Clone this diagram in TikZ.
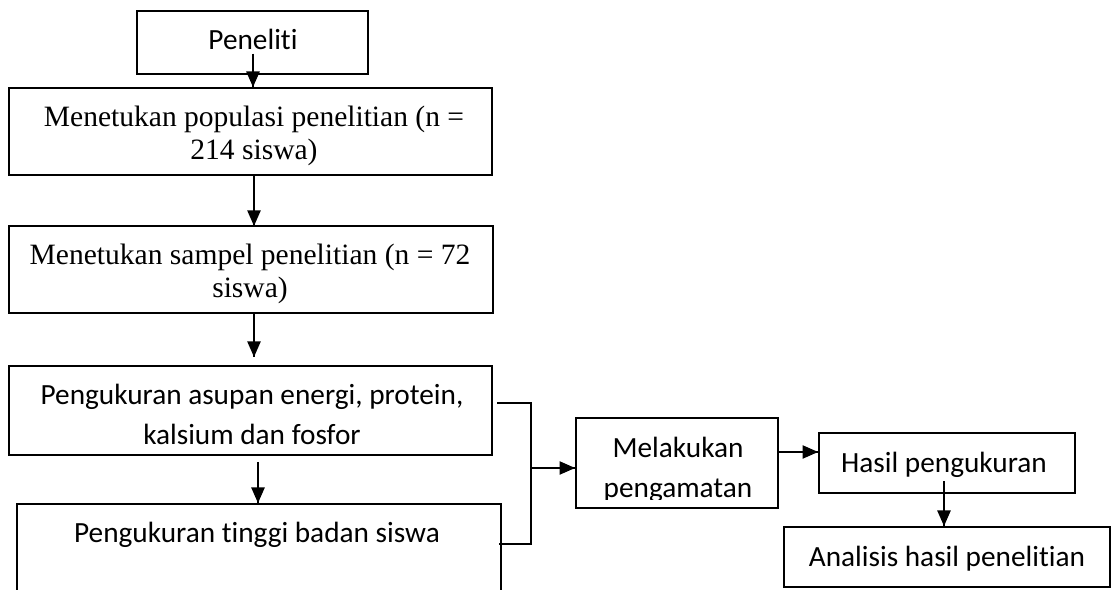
\documentclass[tikz,border=0pt]{standalone}
\usepackage{fontspec}
\setmainfont{Liberation Serif}
\newfontfamily\calibri[Ligatures=NoCommon]{Carlito}
\usetikzlibrary{arrows.meta}
\usetikzlibrary{decorations.markings}
\usetikzlibrary{positioning}
\usetikzlibrary{fit}
\tikzset{flow/.style = {decoration={markings,
                                    mark=at position 1 with {\arrow{Triangle[length=6.5pt, width=5.5pt]}}},
                        postaction={decorate}}}
\tikzset{box/.style = {draw, line width=0.75pt, inner sep=0}}
\tikzset{serif/.style = {align=center, inner sep=1pt, anchor=base, font=\fontsize{12.3}{13.75}\selectfont}}
\tikzset{sans/.style = {align=center, inner sep=1pt, anchor=base, font=\calibri\fontsize{12.2}{16.7}\selectfont}}

\begin{document}
\begin{tikzpicture}[x=0.4166pt, y=-0.4166pt, line width=0.75pt]
      \clip (0, 0) rectangle (1113, 590);

      % left column
      \node [box, fit={(137, 11) (368, 74)}] (peneliti) {};
      \node [sans] (penelitiTxt) at (253, 50) {Peneliti};
      \node [box, fit={(9, 88) (492, 175)}] (populasi) {};
      \node [serif] (populasiTxt) at (254, 160) {Menetukan populasi penelitian (n =\\214 siswa)};
      \node [box, fit={(9, 226) (493, 313)}] (sampel) {};
      \node [serif] (sampelTxt) at (250, 298) {Menetukan sampel penelitian (n = 72\\siswa)};
      \node [box, fit={(9, 366) (492, 455)}] (asupan) {};
      \node [sans] (asupanTxt) at (252, 445) {Pengukuran asupan energi, protein,\\kalsium dan fosfor};
      \node [box, fit={(17, 504) (501, 640)}] (tinggi) {};
      \node [sans] (tinggiTxt) at (257, 543) {Pengukuran tinggi badan siswa};

      % right part
      \begin{scope}
        \clip (576, 418) rectangle (778, 500);
        \node [sans] (melakukanTxt) at (678, 498) {Melakukan\\pengamatan};
      \end{scope}
      \node [box, fit={(576, 418) (778, 508)}] (melakukan) {};
      \node [box, fit={(819, 433) (1075, 493)}] (hasil) {};
      \node [sans] (hasilTxt) at (944, 473) {Hasil pengukuran};
      \node [box, fit={(784, 527) (1110, 587)}] (analisis) {};
      \node [sans] (analisisTxt) at (947, 567) {Analisis hasil penelitian};

      \coordinate (sampelEnd) at (254, 357);
      \coordinate (asupanOut) at (258, 462);
      \coordinate (brTop) at (497, 403);
      \coordinate (brBot) at (499, 544);
      \coordinate (brMid) at (531, 468);

      \draw [flow] (penelitiTxt.south) -- (penelitiTxt.south |- populasi.north);
      \draw [flow] (254, 175) -- (254, 226);
      \draw [flow] (sampel.south -| sampelEnd) -- (sampelEnd);
      \draw [flow] (asupanOut) -- (asupanOut |- tinggi.north);

      \draw (brTop) -| (brMid |- brBot) -- (brBot);
      \draw [flow] (brMid) -- (brMid -| melakukan.west);
      \draw [flow] (melakukan.east |- 0, 452) -- (hasil.west |- 0, 452);
      \draw [flow] (hasilTxt.south) -- (hasilTxt.south |- analisis.north);
    \end{tikzpicture}
\end{document}
